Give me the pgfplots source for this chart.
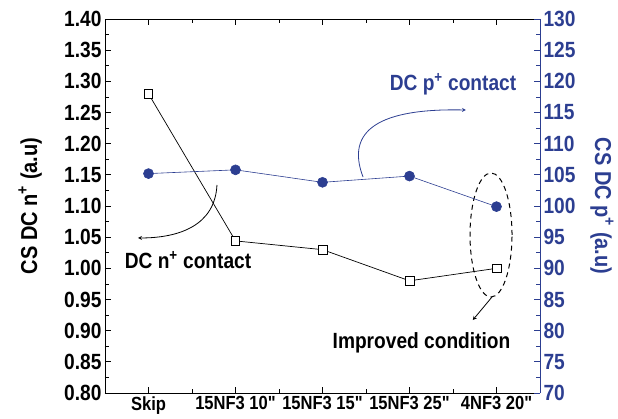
\documentclass[border=0pt]{standalone}
\usepackage{fontspec}
\setmainfont[FakeStretch=0.87, Ligatures=TeXOff]{Liberation Sans}
\usepackage{pgfplots}
\pgfplotsset{compat=1.18}
\definecolor{pblue}{RGB}{44,62,145}
\begin{document}
\begin{tikzpicture}
\path[use as bounding box] (-105pt,-25pt) rectangle (513pt,393pt);
\begin{axis}[
  scale only axis, width=435pt, height=374pt,
  at={(0,0)}, anchor=south west,
  xmin=-0.5, xmax=4.5, ymin=0.8, ymax=1.4,
  axis y line*=left,
  xtick={0,1,2,3,4},
  xticklabels={Skip,15NF3 10",15NF3 15",15NF3 25",4NF3 20"},
  minor x tick num=1,
  ytick={0.80,0.85,...,1.41},
  minor y tick num=1,
  tick align=inside,
  major tick length=6pt, minor tick length=4pt,
  every tick/.style={black, line width=0.8pt},
  axis line style={line width=0.9pt},
  /pgf/number format/assume math mode=true,
  yticklabel style={font=\fontsize{22}{22}\selectfont\bfseries, /pgf/number format/.cd, fixed, fixed zerofill, precision=2},
  xticklabel style={font=\fontsize{19}{19}\selectfont\bfseries},
  ylabel={CS DC n\textsuperscript{+} (a.u)},
  ylabel style={at={(axis description cs:-0.172,0.5)}, anchor=center, rotate=0, font=\fontsize{23}{23}\selectfont\bfseries},
  clip=false,
]
\addplot[black, line width=0.7pt, mark=square*, mark size=4.3pt, mark options={fill=white, draw=black, line width=0.6pt}]
  coordinates {(0,1.28) (1,1.044) (2,1.03) (3,0.98) (4,1.00)};
\node[anchor=base, font=\fontsize{22}{22}\selectfont\bfseries] at (axis cs:0.454,1.0005) {DC n\textsuperscript{+} contact};
\node[anchor=base, font=\fontsize{22}{22}\selectfont\bfseries] at (axis cs:3.138,0.872) {Improved condition};
\node[anchor=base, text=pblue, font=\fontsize{22}{22}\selectfont\bfseries] at (axis cs:3.5,1.286) {DC p\textsuperscript{+} contact};
\draw[black, line width=0.8pt, -stealth] (axis cs:0.787,1.1337) .. controls (axis cs:0.764,1.0695) and (axis cs:0.362,1.0487) .. (axis cs:-0.121,1.0487);
\draw[pblue, line width=0.8pt, -stealth] (axis cs:2.466,1.1465) .. controls (axis cs:2.259,1.222) and (axis cs:2.661,1.257) .. (axis cs:3.649,1.254);
\draw[black, line width=1pt, dash pattern=on 5pt off 4pt] (axis cs:3.937,1.0535) ellipse [x radius=21pt, y radius=62pt];
\draw[black, line width=0.8pt, -stealth] (axis cs:3.948,0.954) -- (axis cs:3.727,0.917);
\end{axis}
\begin{axis}[
  scale only axis, width=435pt, height=374pt,
  at={(0,0)}, anchor=south west,
  xmin=-0.5, xmax=4.5, ymin=70, ymax=130,
  axis y line*=right, axis x line=none,
  ytick={70,75,...,130},
  minor y tick num=1,
  tick align=inside,
  major tick length=6pt, minor tick length=4pt,
  every tick/.style={pblue, line width=0.8pt},
  y axis line style={pblue, line width=0.9pt},
  /pgf/number format/assume math mode=true,
  yticklabel style={text=pblue, font=\fontsize{22}{22}\selectfont\bfseries},
  ylabel={CS DC p\textsuperscript{+} (a.u)},
  ylabel style={at={(axis description cs:1.1425,0.5)}, anchor=center, rotate=180, text=pblue, font=\fontsize{23}{23}\selectfont\bfseries},
  clip=false,
]
\addplot[pblue, line width=0.6pt, mark=*, mark size=5pt, mark options={fill=pblue, draw=pblue}]
  coordinates {(0,105.2) (1,105.8) (2,103.8) (3,104.8) (4,99.9)};
\end{axis}
\end{tikzpicture}
\end{document}
